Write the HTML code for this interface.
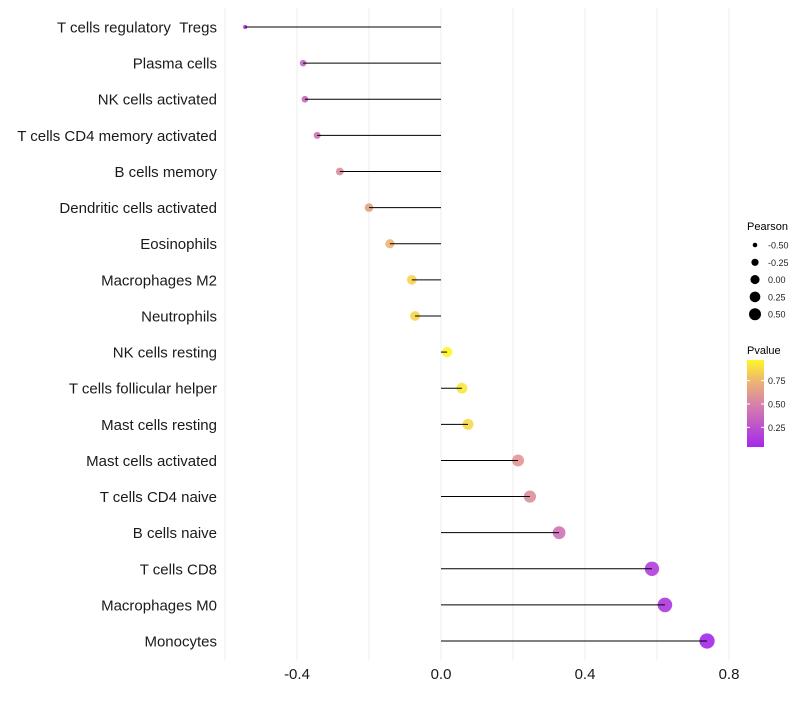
<!DOCTYPE html>
<html><head><meta charset="utf-8"><style>
body{margin:0;background:#fff;font-family:"Liberation Sans",sans-serif}
</style></head><body>
<svg id="c" width="800" height="700" xmlns="http://www.w3.org/2000/svg" font-family="Liberation Sans, sans-serif"></svg>
<script>
const categories=["T cells regulatory\u00a0\u00a0Tregs","Plasma cells","NK cells activated","T cells CD4 memory activated","B cells memory","Dendritic cells activated","Eosinophils","Macrophages M2","Neutrophils","NK cells resting","T cells follicular helper","Mast cells resting","Mast cells activated","T cells CD4 naive","B cells naive","T cells CD8","Macrophages M0","Monocytes"];
const pearson=[-0.544,-0.383,-0.378,-0.344,-0.281,-0.2,-0.142,-0.081,-0.072,0.017,0.058,0.075,0.214,0.247,0.328,0.586,0.622,0.739];
const pvalue=[0.05,0.35,0.36,0.42,0.55,0.65,0.75,0.85,0.86,0.97,0.92,0.87,0.6,0.56,0.42,0.15,0.12,0.04];
const xTicks=[-0.4,0,0.4,0.8];
const xTickLabels=["-0.4","0.0","0.4","0.8"];
const xMinor=[-0.6,-0.2,0.2,0.6];
const sizeLegend=[-0.5,-0.25,0,0.25,0.5];
const sizeLegendLabels=["-0.50","-0.25","0.00","0.25","0.50"];
const pTicks=[0.25,0.5,0.75];
const pTickLabels=["0.25","0.50","0.75"];

const NS="http://www.w3.org/2000/svg",svg=document.getElementById('c');
const x=v=>441+v*360;
const y=i=>27+i*36.12;
const r=v=>Math.sqrt(Math.max(2,27+42*v));
const rl=v=>Math.sqrt(Math.max(2,20.6+30.7*v));
const stops=[[0,[160,32,240]],[0.5,[215,130,170]],[0.75,[238,181,112]],[1,[255,255,32]]];
function col(t){t=Math.max(0,Math.min(1,t));for(let k=1;k<stops.length;k++){if(t<=stops[k][0]){const a=stops[k-1],b=stops[k],f=(t-a[0])/(b[0]-a[0]);return 'rgb('+a[1].map((c,j)=>Math.round(c+(b[1][j]-c)*f)).join(',')+')';}}}
function el(t,at,p){const e=document.createElementNS(NS,t);for(const k in at)e.setAttribute(k,at[k]);(p||svg).appendChild(e);return e;}
const py=p=>447-(p-0.04)/(0.97-0.04)*87;
xMinor.concat(xTicks).forEach(v=>{const g=el('line',{x1:x(v),x2:x(v),y1:8,y2:660,stroke:'#ededed','stroke-width':1});

});
categories.forEach((c,i)=>{
const t=el('text',{x:217,y:y(i)+5.5,'text-anchor':'end','font-size':15,fill:'#1a1a1a'});t.textContent=c;


const pt=el('circle',{cx:x(pearson[i]),cy:y(i),r:r(pearson[i]),fill:col(pvalue[i]),'fill-opacity':0.9});


const s=el('line',{x1:x(0),x2:x(pearson[i]),y1:y(i),y2:y(i),stroke:'#000','stroke-width':1});


});
xTicks.forEach((v,k)=>{const t=el('text',{x:x(v),y:679,'text-anchor':'middle','font-size':15,fill:'#1a1a1a'});t.textContent=xTickLabels[k];

});
let lt=el('text',{x:747,y:230,'font-size':11,fill:'#000'});lt.textContent='Pearson';


sizeLegend.forEach((v,k)=>{const cy=245+k*17.3;
const c=el('circle',{cx:755,cy:cy,r:rl(v),fill:'#000'});


const t=el('text',{x:768,y:cy+3.5,'font-size':9,fill:'#222'});t.textContent=sizeLegendLabels[k];

});
lt=el('text',{x:747,y:354,'font-size':11,fill:'#000'});lt.textContent='Pvalue';


const defs=el('defs',{});const lg=el('linearGradient',{id:'pg',x1:0,y1:1,x2:0,y2:0},defs);
for(let k=0;k<=10;k++){const p=0.04+k/10*0.93;el('stop',{offset:k/10,'stop-color':col(p)},lg);}
const bar=el('rect',{x:747,y:360,width:17,height:87,fill:'url(#pg)'});


pTicks.forEach((v,k)=>{const yy=py(v);
el('line',{x1:747,x2:750,y1:yy,y2:yy,stroke:'#fff'});el('line',{x1:761,x2:764,y1:yy,y2:yy,stroke:'#fff'});
const t=el('text',{x:768,y:yy+3.5,'font-size':9,fill:'#222'});t.textContent=pTickLabels[k];

});
</script>
</body></html>
